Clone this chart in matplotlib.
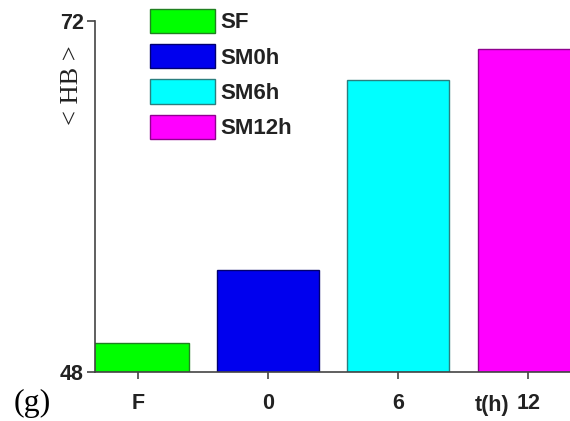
import matplotlib
matplotlib.use("Agg")
import matplotlib.pyplot as plt
from matplotlib.patches import Patch

# ---- data ----
categories = ["F", "0", "6", "12"]
series_names = ["SF", "SM0h", "SM6h", "SM12h"]
hb_values = [50.0, 55.0, 68.0, 70.1]
y_ticks = [48, 72]

# ---- style ----
face_colors = ["#00ff00", "#0000ee", "#00ffff", "#ff00ff"]
edge_colors = ["#208020", "#000070", "#2a7f7f", "#900090"]

W, H = 570, 421
fig = plt.figure(figsize=(W / 100, H / 100), dpi=100)
ax_left, ax_right, ax_bot, ax_top = 95, 570, 372, 21
ax = fig.add_axes([ax_left / W, (H - ax_bot) / H,
                   (ax_right - ax_left) / W, (ax_bot - ax_top) / H])

sans = ["Liberation Sans", "DejaVu Sans"]
serif = ["Liberation Serif", "DejaVu Serif"]

positions = list(range(len(categories)))
bars = ax.bar(positions, [v - 48 for v in hb_values], bottom=48, width=0.78,
              color=face_colors, edgecolor=edge_colors, linewidth=1.0,
              zorder=2)

ax.set_ylim(48, 72)
ax.set_xlim(-0.33, 3.32)
ax.set_yticks(y_ticks)
ax.set_xticks(positions)
ax.set_xticklabels(categories)

for sp in ["top", "right"]:
    ax.spines[sp].set_visible(False)
for sp in ["left", "bottom"]:
    ax.spines[sp].set_color("#444444")
    ax.spines[sp].set_linewidth(1.2)

ax.tick_params(axis="y", direction="out", length=6, width=1.2, color="#444444",
               pad=2)
ax.tick_params(axis="x", direction="out", length=5, width=1.2, color="#444444",
               pad=10)
for lab in ax.get_yticklabels() + ax.get_xticklabels():
    lab.set_fontfamily(sans)
    lab.set_fontweight("bold")
    lab.set_fontsize(15.5)
    lab.set_color("#222222")

# y label "< HB >"
fig.text(72 / W, 1 - 85 / H, "< HB >", rotation=90, ha="center", va="center",
         fontsize=19, family=serif, color="#222222")
# axis caption t(h)
fig.text(492 / W, 1 - 405 / H, "t(h)", ha="center", va="center",
         fontsize=15.5, family=sans, fontweight="bold", color="#222222")
# panel tag
fig.text(32 / W, 1 - 403 / H, "(g)", ha="center", va="center",
         fontsize=23, family=serif, color="black")

handles = [Patch(facecolor=fc, edgecolor=ec, linewidth=1.0)
           for fc, ec in zip(face_colors, edge_colors)]
leg = fig.legend(handles, series_names, loc="upper left",
                 bbox_to_anchor=(150 / W, 1 - 8.5 / H), frameon=False,
                 borderpad=0, borderaxespad=0, handlelength=2.93,
                 handleheight=1.32, handletextpad=0.23, labelspacing=0.48,
                 prop={"family": sans, "weight": "bold", "size": 16})
for t in leg.get_texts():
    t.set_color("#222222")

fig.savefig("out.png", dpi=100)
